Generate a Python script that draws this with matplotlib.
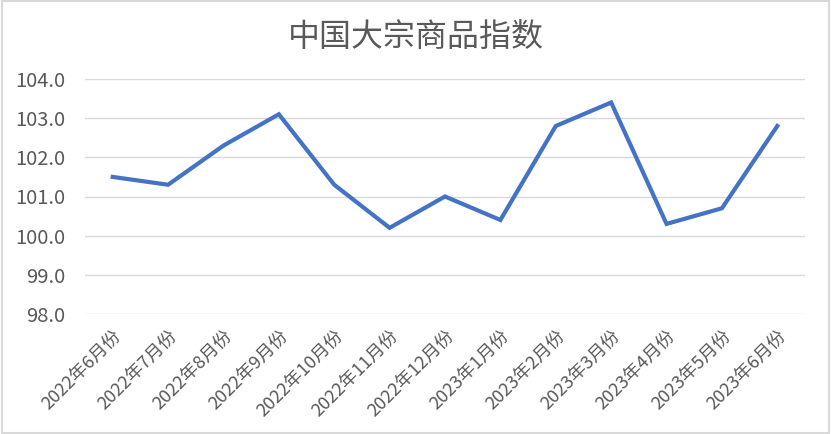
import matplotlib.pyplot as plt
from matplotlib.patches import Rectangle

plt.rcParams['font.family'] = ['Noto Sans CJK SC', 'DejaVu Sans']

months = ['2022年6月份', '2022年7月份', '2022年8月份', '2022年9月份', '2022年10月份',
          '2022年11月份', '2022年12月份', '2023年1月份', '2023年2月份', '2023年3月份',
          '2023年4月份', '2023年5月份', '2023年6月份']
index_values = [101.5, 101.3, 102.3, 103.1, 101.3, 100.2, 101.0, 100.4, 102.8, 103.4,
                100.3, 100.7, 102.8]
yticks = [98.0, 99.0, 100.0, 101.0, 102.0, 103.0, 104.0]

fig = plt.figure(figsize=(8.31, 4.34), dpi=100)
ax = fig.add_axes([85 / 831, 120 / 434, 720 / 831, 235 / 434])

x = list(range(len(months)))
ax.plot(x, index_values, color='#4472c4', linewidth=3, solid_joinstyle='miter')

ax.set_xlim(-0.5, len(months) - 0.5)
ax.set_ylim(98, 104)
ax.set_yticks(yticks)
ax.set_yticklabels([f'{v:.1f}' for v in yticks], fontsize=14.5, color='#595959')
ax.set_xticks(x)
ax.set_xticklabels(months, rotation=45, ha='right', va='top', fontsize=13,
                   color='#595959', rotation_mode='anchor')
ax.tick_params(axis='y', length=0, pad=14)
ax.tick_params(axis='x', length=0, pad=9)
ax.grid(axis='y', color='#d9d9d9', linewidth=1)
ax.set_axisbelow(True)
for s in ax.spines.values():
    s.set_visible(False)

fig.text(0.5, 1 - 38 / 434, '中国大宗商品指数', ha='center', va='center',
         fontsize=23, color='#595959')

fig.patches.append(Rectangle((0.002, 0.003), 0.996, 0.994, transform=fig.transFigure,
                             fill=False, edgecolor='#d9d9d9', linewidth=1.5))

fig.savefig('out.png', dpi=100)
